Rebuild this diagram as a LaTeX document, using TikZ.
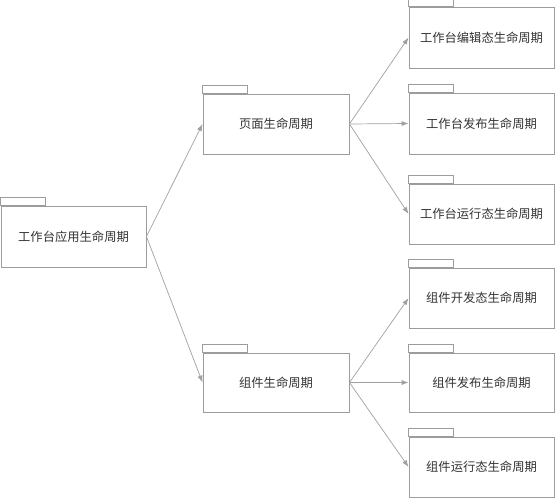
\documentclass[tikz,border=0pt]{standalone}
\usepackage{fontspec}
\newfontfamily\cjk{Noto Sans CJK SC}
\usetikzlibrary{arrows.meta}
\definecolor{boxline}{HTML}{9C9C9C}
\definecolor{arrline}{HTML}{A0A0A0}
\definecolor{txt}{HTML}{333333}
\tikzset{
  pkg/.style={draw=boxline, line width=0.9pt, fill=white, rectangle,
    minimum width=145pt, minimum height=61pt, inner sep=0pt,
    text=txt, font=\cjk\fontsize{12.3}{15}\selectfont},
  conn/.style={draw=arrline, line width=0.7pt, -{Latex[length=7pt,width=5pt]}},
}
\begin{document}
\begin{tikzpicture}[x=1pt,y=-1pt]
\useasboundingbox (0,0) rectangle (556,500);
\node[pkg] (root) at (73.5,236.5) {工作台应用生命周期};
\node[pkg, minimum width=146pt, minimum height=60pt] (page) at (276,124) {页面生命周期};
\node[pkg, minimum width=146pt, minimum height=59pt] (comp) at (276,382.5) {组件生命周期};
\node[pkg] (l1) at (481.5,37.5) {工作台编辑态生命周期};
\node[pkg] (l2) at (481.5,123.5) {工作台发布生命周期};
\node[pkg, minimum height=60pt] (l3) at (481.5,214) {工作台运行态生命周期};
\node[pkg, minimum height=60pt] (l4) at (481.5,298) {组件开发态生命周期};
\node[pkg, minimum height=59pt] (l5) at (481.5,382.5) {组件发布生命周期};
\node[pkg, minimum height=60pt] (l6) at (481.5,467) {组件运行态生命周期};
\foreach \n in {root,page,comp,l1,l2,l3,l4,l5,l6}
  \draw[draw=boxline, line width=0.9pt, fill=white] (\n.north west) rectangle ++(45,-8);
\draw[conn] (root.east) -- (page.west);
\draw[conn] (root.east) -- (comp.west);
\draw[conn] (page.east) -- (l1.west);
\draw[conn] (page.east) -- (l2.west);
\draw[conn] (page.east) -- (l3.west);
\draw[conn] (comp.east) -- (l4.west);
\draw[conn] (comp.east) -- (l5.west);
\draw[conn] (comp.east) -- (l6.west);
\end{tikzpicture}
\end{document}
